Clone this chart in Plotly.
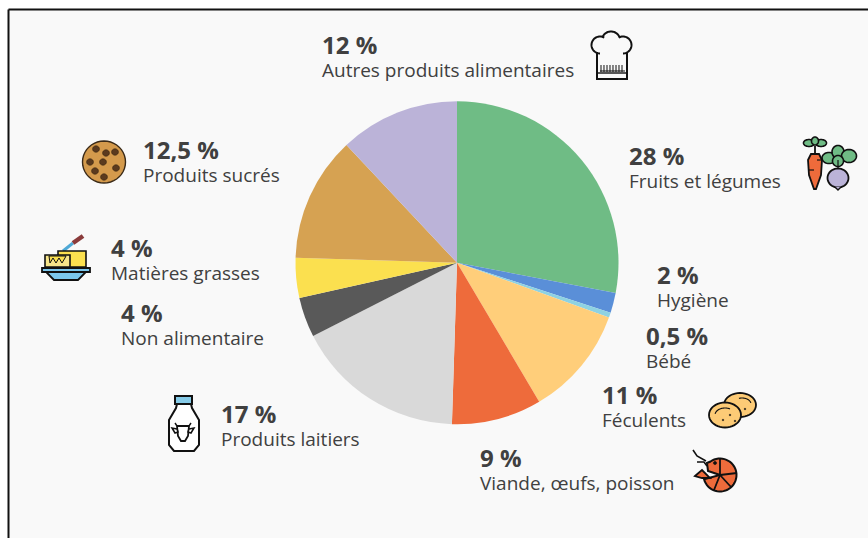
import math
import plotly.graph_objects as go

W, H = 868, 538
categories = ["Fruits et légumes", "Hygiène", "Bébé", "Féculents", "Viande, œufs, poisson",
              "Produits laitiers", "Non alimentaire", "Matières grasses", "Produits sucrés",
              "Autres produits alimentaires"]
values = [28, 2, 0.5, 11, 9, 17, 4, 4, 12.5, 12]
value_labels = ["28 %", "2 %", "0,5 %", "11 %", "9 %", "17 %", "4 %", "4 %", "12,5 %", "12 %"]
colors = ["#6fbc85", "#5a8fd8", "#8ed2e2", "#ffce7a", "#ee6b3b", "#d9d9d9", "#595959",
          "#fbe04f", "#d6a252", "#bbb3d8"]
label_x = [628, 656, 645, 601, 479, 220, 120, 110, 142, 321]
label_y = [166, 285.5, 346.5, 405.5, 468, 424.5, 323.5, 258, 160.5, 55.5]

TEXT = "#404040"
INK = "#111111"
FONT = "Open Sans"


def X(x):
    return x / W


def Y(y):
    return 1 - y / H


def path(points, close=True):
    s = "M" + " L".join(f"{X(x):.5f},{Y(y):.5f}" for x, y in points)
    return s + (" Z" if close else "")


def arc_pts(cx, cy, rx, ry, a0=0, a1=360, n=40):
    return [(cx + rx * math.cos(math.radians(a0 + (a1 - a0) * i / n)),
             cy + ry * math.sin(math.radians(a0 + (a1 - a0) * i / n))) for i in range(n + 1)]


def ell(cx, cy, rx, ry, a0=0, a1=360, close=True, n=40):
    return path(arc_pts(cx, cy, rx, ry, a0, a1, n), close)


shapes = []


def add(d, fill="rgba(0,0,0,0)", line=INK, width=1.8):
    shapes.append(dict(type="path", xref="paper", yref="paper", path=d, fillcolor=fill,
                       line=dict(color=line, width=width), layer="above"))


def poly(points, fill="rgba(0,0,0,0)", line=INK, width=1.8, close=True):
    add(path(points, close), fill, line, width)


# frame: panel background with only its top and left rules visible
shapes.append(dict(type="rect", xref="paper", yref="paper", x0=X(9), x1=1, y0=0, y1=Y(10),
                   fillcolor="#f9f9f9", line=dict(width=0), layer="below"))
shapes.append(dict(type="line", xref="paper", yref="paper", x0=X(8.5), x1=1, y0=Y(9.5), y1=Y(9.5),
                   line=dict(color="#111111", width=2), layer="below"))
shapes.append(dict(type="line", xref="paper", yref="paper", x0=X(8.5), x1=X(8.5), y0=0, y1=Y(9.5),
                   line=dict(color="#111111", width=2), layer="below"))

# chef hat
add(ell(600, 45, 8.5, 8.5, 90, 300, False), width=2)
add(ell(611, 40, 9, 8.5, 200, 340, False), width=2)
add(ell(623, 45, 8.5, 8.5, 240, 450, False), width=2)
poly([(597, 52), (597, 79), (627, 79), (627, 52)], close=False, width=2)
poly([(597, 73), (627, 73)], close=False, width=1.4)
for lx in range(601, 625, 3):
    poly([(lx, 65), (lx, 72)], close=False, width=1)
poly([(600, 71), (625, 71)], close=False, width=1)

# carrot and beet
for c in [(809, 143, 5.5, 3.5), (821, 143, 5.5, 3.5), (815, 141, 3.5, 4)]:
    add(ell(*c), "#6fbc85", INK, 1.6)
poly([(815, 146), (815, 153)], close=False)
poly([(808, 160), (811, 154), (819, 154), (822, 160), (821, 175), (816, 189), (814, 189), (809, 175)],
     "#ee6b3b", INK, 1.8)
poly([(809, 170), (814, 170)], close=False, width=1.2)
poly([(821, 160), (817, 160)], close=False, width=1.2)
for c in [(829, 158, 7, 5.5), (838, 152, 6, 6.5), (849, 156, 7.5, 6.5), (838, 161, 5.5, 5.5)]:
    add(ell(*c), "#6fbc85", INK, 1.6)
add(ell(838, 178, 10.5, 9.5), "#bbb3d8", INK, 1.8)
poly([(835, 187), (838, 190), (841, 187)], "#bbb3d8", INK, 1.4, False)
poly([(838, 160), (838, 169)], close=False, width=1.2)

# cookie
add(ell(104, 162, 21.5, 21), "#d49a4c", "#3a2a18", 1.4)
for cx, cy in [(96, 149), (106, 153), (115, 152), (90, 162), (103, 162), (116, 168), (95, 171), (104, 177)]:
    add(ell(cx, cy, 3.4, 3.2), "#5b3a1e", "#33220f", 0.6)

# butter dish
poly([(63, 251), (73, 243)], close=False, line="#4fa9d6", width=3)
poly([(73, 243), (83, 236)], close=False, line="#8a3b3b", width=4.5)
poly([(58, 251), (86, 251), (86, 267), (58, 267)], "#fbe04f", INK, 1.6)
poly([(45, 255), (70, 255), (70, 267), (45, 267)], "#f7e58a", INK, 1.6)
poly([(49, 256), (50, 263), (53, 258), (56, 263), (59, 258), (62, 263), (65, 258), (66, 256)],
     "#fbe04f", INK, 1)
poly([(42, 268), (90, 268), (90, 272), (42, 272)], "#7cc8ee", INK, 1.8)
poly([(46, 272), (86, 272), (78, 280), (54, 280)], "#7cc8ee", INK, 1.8)

# milk bottle
poly([(175, 396), (192, 396), (192, 404), (175, 404)], "#86cbe8", INK, 2)
poly([(177, 404), (191, 404), (192, 408), (199, 420), (199, 445), (194, 451), (174, 451), (169, 445),
      (169, 420), (176, 408)], "#ffffff", INK, 2)
poly([(177, 426), (189, 426), (188, 436), (185, 441), (181, 441), (178, 436)], "#ffffff", INK, 1.8)
poly([(177, 429), (172, 428), (175, 433), (178, 432)], "#ffffff", INK, 1.5)
poly([(189, 429), (194, 428), (191, 433), (188, 432)], "#ffffff", INK, 1.5)
poly([(177, 426), (175, 423)], close=False, width=1.4)
poly([(189, 426), (191, 423)], close=False, width=1.4)

# potatoes
add(ell(740, 405, 16, 12), "#fdcb76", INK, 1.8)
add(ell(725, 415, 16, 12.5), "#fdcb76", INK, 1.8)
add(ell(725, 415, 10, 7, 190, 300, False), line=INK, width=1.1)
add(ell(742, 404, 9, 6, 250, 350, False), line=INK, width=1.1)
for cx, cy in [(723, 420), (730, 415), (735, 421), (745, 409)]:
    add(ell(cx, cy, 0.8, 0.8), INK, INK, 0.5)

# shrimp
poly(arc_pts(720, 475, 16.5, 16.5, -125, 165) + [(720, 475), (708, 471), (707, 463)], "#ee6b3b", INK, 2)
poly([(720, 475), (720, 459)], close=False)
poly([(720, 475), (737, 473)], close=False)
poly([(720, 475), (731, 487)], close=False)
poly([(720, 475), (714, 490)], close=False)
add(ell(715, 463, 1.6, 1.6), INK, INK, 0.6)
poly([(695, 476), (702, 470), (710, 478), (702, 478)], "#ee6b3b", INK, 1.8)
poly([(693, 450), (697, 456), (706, 461)], close=False, width=1.6)
poly([(697, 462), (704, 462), (707, 466)], close=False, width=1.6)

annotations = []
for name, val, x, y in zip(categories, value_labels, label_x, label_y):
    annotations.append(dict(
        text=f'<span style="font-size:24px"><b>{val}</b></span><br>'
             f'<span style="font-size:19px">{name}</span>',
        x=X(x), y=Y(y), xref="paper", yref="paper", align="left",
        xanchor="left", yanchor="middle", showarrow=False, borderpad=0,
        font=dict(family=FONT, size=17.5, color=TEXT)))

fig = go.Figure(go.Pie(labels=categories, values=values, sort=False, direction="clockwise",
                       rotation=0, textinfo="none", hoverinfo="label+percent",
                       marker=dict(colors=colors, line=dict(width=0)), showlegend=False,
                       domain=dict(x=[X(295.5), X(618.5)], y=[Y(424.5), Y(101)])))
fig.update_layout(width=W, height=H, margin=dict(l=0, r=0, t=0, b=0), paper_bgcolor="#ffffff",
                  shapes=shapes, annotations=annotations, showlegend=False)
fig.write_html("out.html", config=dict(displayModeBar=False),
               post_script="document.body.style.margin='0';document.body.style.overflow='hidden';")
